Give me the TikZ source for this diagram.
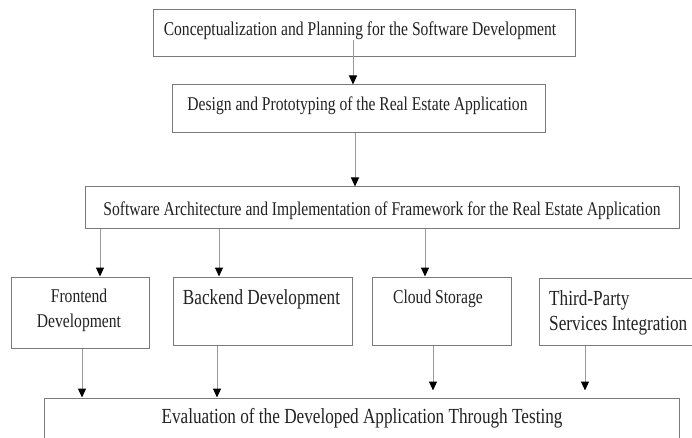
\documentclass[tikz,border=0pt]{standalone}
\usepackage{fontspec}
\setmainfont{Liberation Serif}[FakeStretch=0.8]
\usetikzlibrary{arrows.meta}
\definecolor{boxline}{HTML}{7A7A7A}
\definecolor{arrowline}{HTML}{9A9A9A}
\definecolor{ink}{HTML}{222222}
\begin{document}
\begin{tikzpicture}[x=1pt,y=-1pt,
  box/.style={draw=boxline,line width=1pt,rectangle,inner sep=0pt},
  lbl/.style={inner sep=0pt,text=ink,font=\fontsize{19.5}{25}\selectfont},
  lblbig/.style={inner sep=0pt,text=ink,font=\fontsize{21.5}{25}\selectfont},
  arr/.style={draw=arrowline,line width=1pt,-{Triangle[color=black,width=8pt,length=9pt]}}]
\useasboundingbox (0,0) rectangle (692,438);
\clip (0,0) rectangle (692,438);
\fill[white] (0,0) rectangle (692,438);

% boxes
\node[box,minimum width=422pt,minimum height=47pt] (b1) at (364,33.5) {};
\node[box,minimum width=373pt,minimum height=48pt] (b2) at (358.5,109) {};
\node[box,minimum width=594pt,minimum height=41pt] (b3) at (382,207.5) {};
\node[box,minimum width=138pt,minimum height=71pt] (f) at (80,312.5) {};
\node[box,minimum width=179pt,minimum height=68pt] (back) at (262.5,311) {};
\node[box,minimum width=139pt,minimum height=68pt] (cloud) at (441.5,311) {};
\node[box,minimum width=161pt,minimum height=67pt] (third) at (619.5,311.5) {};
\node[box,minimum width=635pt,minimum height=52pt] (eval) at (361.5,424) {};

% labels
\node[lbl,anchor=base] (t1) at (360,36) {Conceptualization and Planning for the Software Development};
\node[lbl,anchor=base] (t2) at (357.5,111) {Design and Prototyping of the Real Estate Application};
\node[lbl,anchor=base] (t3) at (382,215) {Software Architecture and Implementation of Framework for the Real Estate Application};
\node[lbl,anchor=north,align=center] (tf) at (79,289) {Frontend\\Development};
\node[lblbig,anchor=base] (tback) at (261.5,304) {Backend Development};
\node[lbl,anchor=base] (tcloud) at (438,303) {Cloud Storage};
\node[lblbig,anchor=north west,align=left] (tthird) at (549,290.5) {Third-Party\\Services Integration};
\node[lblbig,anchor=base] (teval) at (362,423) {Evaluation of the Developed Application Through Testing};

% connectors
\coordinate (c1) at (353,40);
\draw[arr] (c1) -- (c1 |- b2.north);
\draw[arr] ([xshift=-3.5pt]b2.south) -- ([xshift=-3.5pt]b2.south |- b3.north);
\draw[arr] ([xshift=20pt]f.north |- b3.south) -- ([xshift=20pt]f.north);
\draw[arr] ([xshift=-43.5pt]back.north |- b3.south) -- ([xshift=-43.5pt]back.north);
\draw[arr] ([xshift=-16.5pt]cloud.north |- b3.south) -- ([xshift=-16.5pt]cloud.north);
\draw[arr] ([xshift=2pt]f.south) -- ([xshift=2pt]f.south |- eval.north);
\draw[arr] ([xshift=-45.5pt]back.south) -- ([xshift=-45.5pt]back.south |- eval.north);
\draw[arr,shorten >=7pt] ([xshift=-8.5pt]cloud.south) -- ([xshift=-8.5pt]cloud.south |- eval.north);
\draw[arr,shorten >=7pt] ([xshift=-34.5pt]third.south) -- ([xshift=-34.5pt]third.south |- eval.north);
\end{tikzpicture}
\end{document}
